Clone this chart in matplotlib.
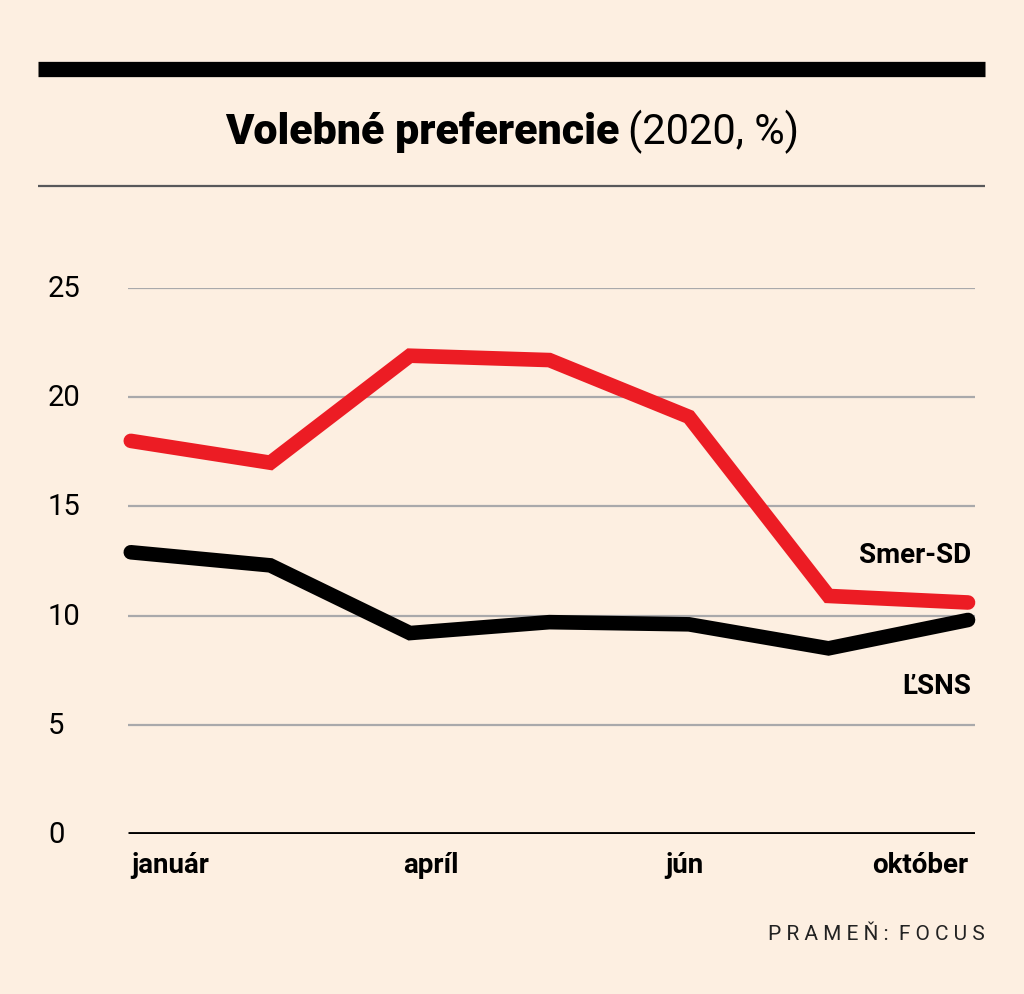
import matplotlib
matplotlib.use('Agg')
import matplotlib.pyplot as plt
from matplotlib import font_manager
from matplotlib.transforms import blended_transform_factory

# 使えるフォントを確認（細身のフォントがあれば使う）
names = {f.name for f in font_manager.fontManager.ttflist}
narrow = 'Liberation Sans Narrow' if 'Liberation Sans Narrow' in names else 'Roboto'
plt.rcParams['font.family'] = [narrow, 'DejaVu Sans']

# データ
points = list(range(7))
smer = [18.0, 17.0, 21.9, 21.7, 19.1, 10.9, 10.6]
lsns = [12.9, 12.3, 9.2, 9.7, 9.6, 8.5, 9.8]
month_labels = ['január', 'apríl', 'jún', 'október']
month_pos = [0, 2.15, 3.97, 6]
yticks = [0, 5, 10, 15, 20, 25]

bg = '#fdefe1'
red = '#ec1c24'

fig = plt.figure(figsize=(10.24, 9.95), dpi=100, facecolor=bg)
ax = fig.add_axes([128 / 1024, 160 / 995, 847 / 1024, 546 / 995])
ax.set_facecolor(bg)

for y in yticks[1:]:
    ax.axhline(y, color='#a9a9ab', lw=1.6, zorder=1)
ax.axhline(0, color='black', lw=3.5, zorder=2, solid_capstyle='butt')

ax.plot(points, smer, color=red, lw=10.5, solid_capstyle='round',
        solid_joinstyle='miter', zorder=3, clip_on=False)
ax.plot(points, lsns, color='black', lw=10.5, solid_capstyle='round',
        solid_joinstyle='miter', zorder=4, clip_on=False)

ax.set_xlim(-0.02, 6.05)
ax.set_ylim(0, 25)
for s in ax.spines.values():
    s.set_visible(False)
ax.set_xticks([])
ax.set_yticks([])

# y軸ラベル
tr = blended_transform_factory(fig.transFigure, ax.transData)
for y in yticks:
    ax.text(48 / 1024, y, str(y), transform=tr, ha='left', va='center',
            fontsize=21, fontweight='normal', color='black')

# 月ラベル
aligns = ['left', 'center', 'center', 'right']
for lab, xp, ha in zip(month_labels, month_pos, aligns):
    ax.text(xp, -1.4, lab, ha=ha, va='center', fontsize=20, fontweight='bold')

# 系列ラベル
ax.text(6.02, 12.8, 'Smer-SD', ha='right', va='center', fontsize=20, fontweight='bold')
ax.text(6.02, 6.8, 'ĽSNS', ha='right', va='center', fontsize=20, fontweight='bold')

# タイトルと線
fig.add_artist(plt.Line2D([38 / 1024, 985 / 1024], [1 - 70 / 995] * 2, color='black',
                          lw=11, solid_capstyle='butt'))
fig.add_artist(plt.Line2D([38 / 1024, 985 / 1024], [1 - 187 / 995] * 2, color='#58585a',
                          lw=1.6, solid_capstyle='butt'))
ty = 1 - 132 / 995
t1 = fig.text(0, ty, 'Volebné preferencie', fontsize=31, fontweight='heavy',
              ha='left', va='center')
t2 = fig.text(0, ty, '(2020, %)', fontsize=30, fontweight='normal', ha='left', va='center')
fig.canvas.draw()
w1 = t1.get_window_extent().width
w2 = t2.get_window_extent().width
gap = 8
left = (1024 - (w1 + gap + w2)) / 2
t1.set_x(left / 1024)
t2.set_x((left + w1 + gap) / 1024)

fig.text(985 / 1024, 1 - 935 / 995, 'P R A M E Ň :  F O C U S', fontsize=15,
         fontweight='normal', ha='right', va='center', color='#222222')

fig.savefig('out.png', dpi=100, facecolor=bg)
